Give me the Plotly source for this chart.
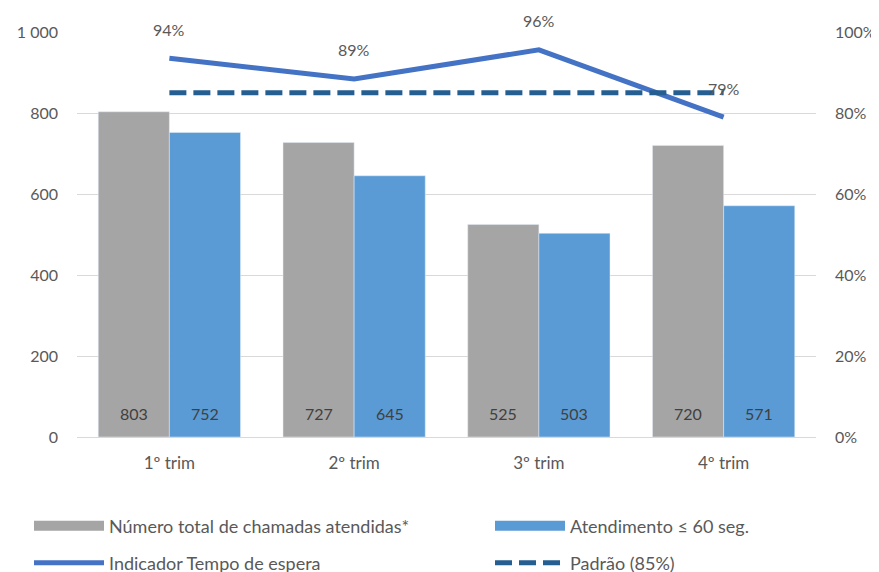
import plotly.graph_objects as go

categories = ["1º trim", "2º trim", "3º trim", "4º trim"]
total_calls = [803, 727, 525, 720]
within_60 = [752, 645, 503, 571]
indicator = [0.935, 0.884, 0.956, 0.79]
indicator_labels = ["94%", "89%", "96%", "79%"]
standard = [0.85, 0.85, 0.85, 0.85]

names = ["Número total de chamadas atendidas*", "Atendimento ≤ 60 seg.",
         "Indicador Tempo de espera", "Padrão (85%)"]

GRAY = "#A5A5A5"
BLUE = "#5B9BD5"
LINE = "#4472C4"
DARK = "#255E91"
FONT = "Lato"
TXT = "#595959"

# page has an 8px body margin: figure is drawn 8px in from the top-left
OFF = 8
W, H = 879 - OFF, 572 - OFF
PL, PR, PT, PB = 77, 816, 32, 437  # plot area in page pixels
PW, PH = PR - PL, PB - PT

fig = go.Figure()
fig.add_trace(go.Bar(x=categories, y=total_calls, marker_color=GRAY, name=names[0],
                     showlegend=False, hoverinfo="skip"))
fig.add_trace(go.Bar(x=categories, y=within_60, marker_color=BLUE, name=names[1],
                     showlegend=False, hoverinfo="skip"))
fig.add_trace(go.Scatter(x=categories, y=indicator, yaxis="y2", mode="lines",
                         line=dict(color=LINE, width=5), name=names[2], legend="legend3"))
fig.add_trace(go.Scatter(x=categories, y=standard, yaxis="y2", mode="lines",
                         line=dict(color=DARK, width=5, dash="17px,7px"), name=names[3],
                         legend="legend4"))
# legend proxies for bars
fig.add_trace(go.Scatter(x=[None], y=[None], mode="lines", line=dict(color=GRAY, width=12),
                         name=names[0], legend="legend"))
fig.add_trace(go.Scatter(x=[None], y=[None], mode="lines", line=dict(color=BLUE, width=12),
                         name=names[1], legend="legend2"))

annotations = []
for c, a, b in zip(categories, total_calls, within_60):
    annotations.append(dict(x=c, y=0, text=str(a), showarrow=False, xshift=-35.5, yshift=24,
                            font=dict(family=FONT, size=16, color="#404040")))
    annotations.append(dict(x=c, y=0, text=str(b), showarrow=False, xshift=35.5, yshift=24,
                            font=dict(family=FONT, size=16, color="#404040")))
for c, v, t in zip(categories, indicator, indicator_labels):
    annotations.append(dict(x=c, y=v, yref="y2", text=t, showarrow=False, yshift=29,
                            font=dict(family=FONT, size=16, color=TXT)))


def leg(px, py):
    return dict(orientation="h", xanchor="left", yanchor="middle", itemwidth=70,
                font=dict(family=FONT, size=18, color=TXT), bgcolor="rgba(0,0,0,0)",
                x=(px - 6 - PL) / PW, y=(PB - py) / PH)


fig.update_layout(
    width=W, height=H,
    margin=dict(l=PL - OFF, r=W - (PR - OFF), t=PT - OFF, b=H - (PB - OFF), autoexpand=False),
    paper_bgcolor="white", plot_bgcolor="white",
    barmode="group", bargap=0.23, bargroupgap=0,
    font=dict(family=FONT, size=16, color=TXT),
    xaxis=dict(showgrid=False, ticks="", tickfont=dict(size=17, color=TXT),
               showline=False, ticklabelstandoff=14),
    yaxis=dict(range=[0, 1000], tickvals=[0, 200, 400, 600, 800, 1000],
               ticktext=["0", "200", "400", "600", "800", "1 000"],
               gridcolor="#D9D9D9", gridwidth=1, zeroline=True, zerolinecolor="#D9D9D9",
               zerolinewidth=1, ticks="", ticklabelstandoff=18, tickfont=dict(size=16, color=TXT)),
    yaxis2=dict(range=[0, 1], overlaying="y", side="right", tickformat=".0%",
                tickvals=[0, 0.2, 0.4, 0.6, 0.8, 1.0], showgrid=False, zeroline=False,
                ticks="", ticklabelstandoff=18, tickfont=dict(size=16, color=TXT)),
    legend=leg(35, 526),
    legend2=leg(496, 526),
    legend3=leg(35, 563),
    legend4=leg(496, 563),
    annotations=annotations,
)

fig.write_html("out.html")
